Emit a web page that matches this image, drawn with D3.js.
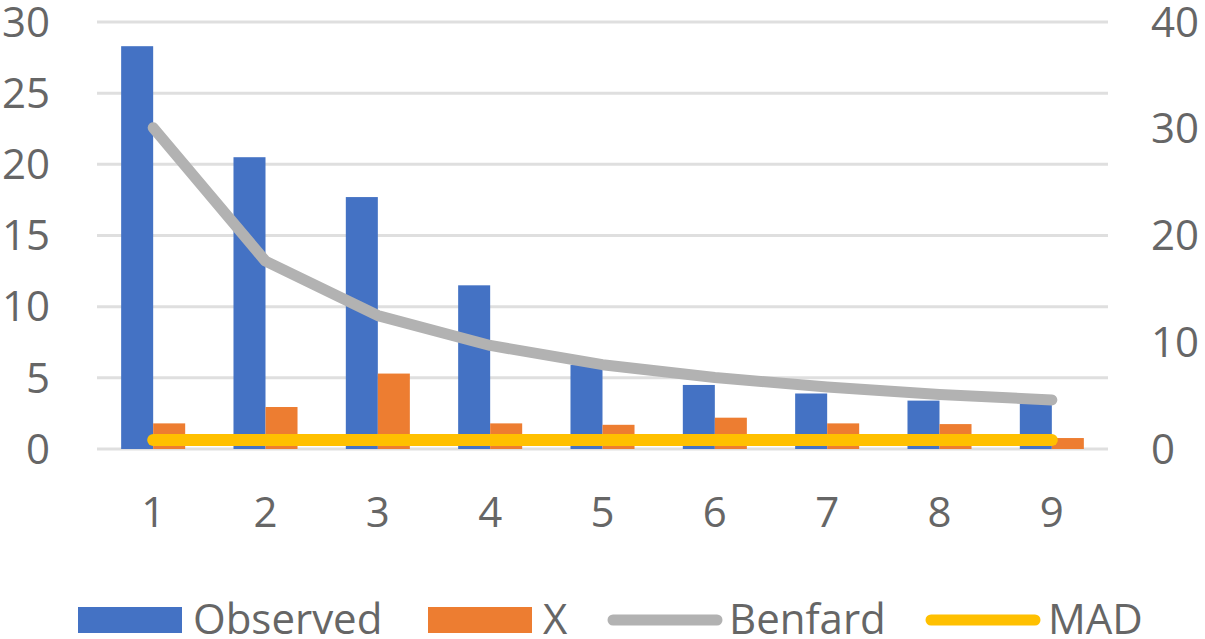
<!DOCTYPE html>
<html>
<head>
<meta charset="utf-8">
<script src="https://cdn.jsdelivr.net/npm/d3@7"></script>
<style>
  body { margin: 0; background: #fff; }
  text { font-family: "Open Sans", sans-serif; fill: #666; }
</style>
</head>
<body>
<div id="chart"></div>
<script>
// data
const digits = ["1", "2", "3", "4", "5", "6", "7", "8", "9"];
const observed = [28.3, 20.5, 17.7, 11.5, 5.9, 4.5, 3.9, 3.4, 3.2];
const xSeries = [1.8, 2.95, 5.3, 1.8, 1.7, 2.2, 1.8, 1.75, 0.77];
const benfard = [30.1, 17.6, 12.5, 9.7, 7.9, 6.7, 5.8, 5.1, 4.6];
const mad = [0.85, 0.85, 0.85, 0.85, 0.85, 0.85, 0.85, 0.85, 0.85];
const leftTicks = [0, 5, 10, 15, 20, 25, 30];
const rightTicks = [0, 10, 20, 30, 40];

const width = 1205, height = 639;
const plot = { left: 97, right: 1108, top: 22, bottom: 449 };

const svg = d3.select("#chart")
  .append("svg")
    .attr("width", width)
    .attr("height", height);

// scales
const x = d3.scaleBand()
  .domain(digits)
  .range([plot.left, plot.right])
  .padding(0);

const xSub = d3.scaleBand()
  .domain(["observed", "x"])
  .range([x.bandwidth() * 0.215, x.bandwidth() * 0.785])
  .padding(0);

const y = d3.scaleLinear().domain([0, 30]).range([plot.bottom, plot.top]);
const y2 = d3.scaleLinear().domain([0, 40]).range([plot.bottom, plot.top]);

const color = { observed: "#4472C4", x: "#ED7D31", benfard: "#B2B2B2", mad: "#FFC000" };

// gridlines
svg.append("g")
  .selectAll("line")
  .data(leftTicks)
  .join("line")
    .attr("x1", plot.left)
    .attr("x2", plot.right)
    .attr("y1", d => y(d))
    .attr("y2", d => y(d))
    .attr("stroke", "#DFDFDF")
    .attr("stroke-width", 3);

// left axis labels
svg.append("g")
  .selectAll("text")
  .data(leftTicks)
  .join("text")
    .attr("x", 50)
    .attr("y", d => y(d))
    .attr("dy", "0.35em")
    .attr("text-anchor", "end")
    .attr("font-size", 42)
    .text(d => d);

// right axis labels
svg.append("g")
  .selectAll("text")
  .data(rightTicks)
  .join("text")
    .attr("x", 1151)
    .attr("y", d => y2(d))
    .attr("dy", "0.35em")
    .attr("text-anchor", "start")
    .attr("font-size", 42)
    .text(d => d);

// category labels
svg.append("g")
  .selectAll("text")
  .data(digits)
  .join("text")
    .attr("x", d => x(d) + x.bandwidth() / 2)
    .attr("y", 527)
    .attr("text-anchor", "middle")
    .attr("font-size", 42)
    .text(d => d);

// bars
const rows = digits.map((d, i) => ({ digit: d, observed: observed[i], x: xSeries[i] }));
svg.append("g")
  .selectAll("g")
  .data(rows)
  .join("g")
    .attr("transform", d => `translate(${x(d.digit)},0)`)
  .selectAll("rect")
  .data(d => ["observed", "x"].map(key => ({ key: key, value: d[key] })))
  .join("rect")
    .attr("x", d => xSub(d.key))
    .attr("y", d => y(d.value))
    .attr("width", xSub.bandwidth())
    .attr("height", d => y(0) - y(d.value))
    .attr("fill", d => color[d.key]);

// lines on the right axis
const line = d3.line()
  .x((d, i) => x(digits[i]) + x.bandwidth() / 2)
  .y(d => y2(d));

svg.append("path")
  .datum(benfard)
  .attr("d", line)
  .attr("fill", "none")
  .attr("stroke", color.benfard)
  .attr("stroke-width", 11)
  .attr("stroke-linecap", "round")
  .attr("stroke-linejoin", "round");

svg.append("path")
  .datum(mad)
  .attr("d", line)
  .attr("fill", "none")
  .attr("stroke", color.mad)
  .attr("stroke-width", 12)
  .attr("stroke-linecap", "round")
  .attr("stroke-linejoin", "round");

// legend
const legend = [
  { name: "Observed", type: "rect", c: color.observed, x0: 78, x1: 182, tx: 193 },
  { name: "X", type: "rect", c: color.x, x0: 428, x1: 532, tx: 543 },
  { name: "Benfard", type: "line", c: color.benfard, x0: 613, x1: 717, tx: 729 },
  { name: "MAD", type: "line", c: color.mad, x0: 931, x1: 1035, tx: 1048 }
];
const lg = svg.append("g");
legend.forEach(l => {
  if (l.type === "rect") {
    lg.append("rect")
      .attr("x", l.x0).attr("y", 607)
      .attr("width", l.x1 - l.x0).attr("height", 26)
      .attr("fill", l.c);
  } else {
    lg.append("line")
      .attr("x1", l.x0).attr("x2", l.x1)
      .attr("y1", 620).attr("y2", 620)
      .attr("stroke", l.c)
      .attr("stroke-width", 11)
      .attr("stroke-linecap", "round");
  }
  lg.append("text")
    .attr("x", l.tx)
    .attr("y", 634)
    .attr("font-size", 42)
    .text(l.name);
});
</script>
</body>
</html>
